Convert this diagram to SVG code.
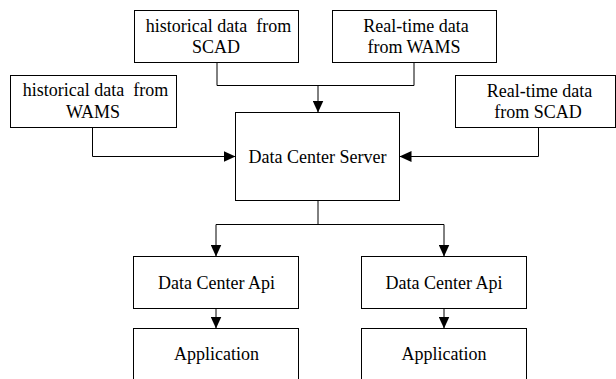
<svg xmlns="http://www.w3.org/2000/svg" width="616" height="379" viewBox="0 0 616 379">
  <style>
    .box { fill: #ffffff; stroke: #000000; stroke-width: 1; }
    .lbl { font-family: "Liberation Serif", "Times New Roman", serif; font-size: 18px; fill: #000000; text-anchor: middle; white-space: pre; }
    .wire { fill: none; stroke: #000000; stroke-width: 1; }
  </style>
  <defs>
    <marker id="arrow" markerUnits="userSpaceOnUse" markerWidth="12" markerHeight="11" refX="12" refY="5.5" orient="auto">
      <path d="M0,0 L12,5.5 L0,11 Z" fill="#000000"/>
    </marker>
  </defs>
  <rect width="616" height="379" fill="#ffffff"/>

  <g id="connectors">
    <polyline class="wire" points="217,62.5 217,85.5 318,85.5"/>
    <polyline class="wire" points="414,62.5 414,85.5 318,85.5"/>
    <line class="wire" x1="318" y1="85.5" x2="318" y2="112.5" marker-end="url(#arrow)"/>
    <polyline class="wire" points="92.5,127.5 92.5,156.5 235.5,156.5" marker-end="url(#arrow)"/>
    <polyline class="wire" points="538.5,127.5 538.5,156.5 399.5,156.5" marker-end="url(#arrow)"/>
    <line class="wire" x1="318" y1="200.5" x2="318" y2="224.5"/>
    <line class="wire" x1="216" y1="224.5" x2="444" y2="224.5"/>
    <line class="wire" x1="216" y1="224.5" x2="216" y2="256.5" marker-end="url(#arrow)"/>
    <line class="wire" x1="444" y1="224.5" x2="444" y2="256.5" marker-end="url(#arrow)"/>
    <line class="wire" x1="216" y1="308.5" x2="216" y2="328.5" marker-end="url(#arrow)"/>
    <line class="wire" x1="444" y1="308.5" x2="444" y2="328.5" marker-end="url(#arrow)"/>
  </g>

  <g id="hist-scad">
    <rect class="box" x="134.5" y="10.5" width="164" height="52"/>
    <text class="lbl" x="218.5" y="32">historical data  from</text>
    <text class="lbl" x="216" y="53">SCAD</text>
  </g>
  <g id="rt-wams">
    <rect class="box" x="332.5" y="10.5" width="164" height="52"/>
    <text class="lbl" x="416" y="32">Real-time data</text>
    <text class="lbl" x="414" y="53">from WAMS</text>
  </g>
  <g id="hist-wams">
    <rect class="box" x="10.5" y="75.5" width="166" height="52"/>
    <text class="lbl" x="95.5" y="96">historical data  from</text>
    <text class="lbl" x="93" y="118">WAMS</text>
  </g>
  <g id="rt-scad">
    <rect class="box" x="455.5" y="75.5" width="160" height="52"/>
    <text class="lbl" x="539.5" y="97">Real-time data</text>
    <text class="lbl" x="538" y="118">from SCAD</text>
  </g>
  <g id="server">
    <rect class="box" x="235.5" y="112.5" width="164" height="88"/>
    <text class="lbl" x="317.5" y="163">Data Center Server</text>
  </g>
  <g id="api-left">
    <rect class="box" x="133.5" y="256.5" width="165" height="52"/>
    <text class="lbl" x="216.5" y="289">Data Center Api</text>
  </g>
  <g id="api-right">
    <rect class="box" x="361.5" y="256.5" width="165" height="52"/>
    <text class="lbl" x="444" y="289">Data Center Api</text>
  </g>
  <g id="app-left">
    <rect class="box" x="133.5" y="328.5" width="165" height="60"/>
    <text class="lbl" x="216.5" y="360">Application</text>
  </g>
  <g id="app-right">
    <rect class="box" x="361.5" y="328.5" width="165" height="60"/>
    <text class="lbl" x="444" y="360">Application</text>
  </g>
</svg>
